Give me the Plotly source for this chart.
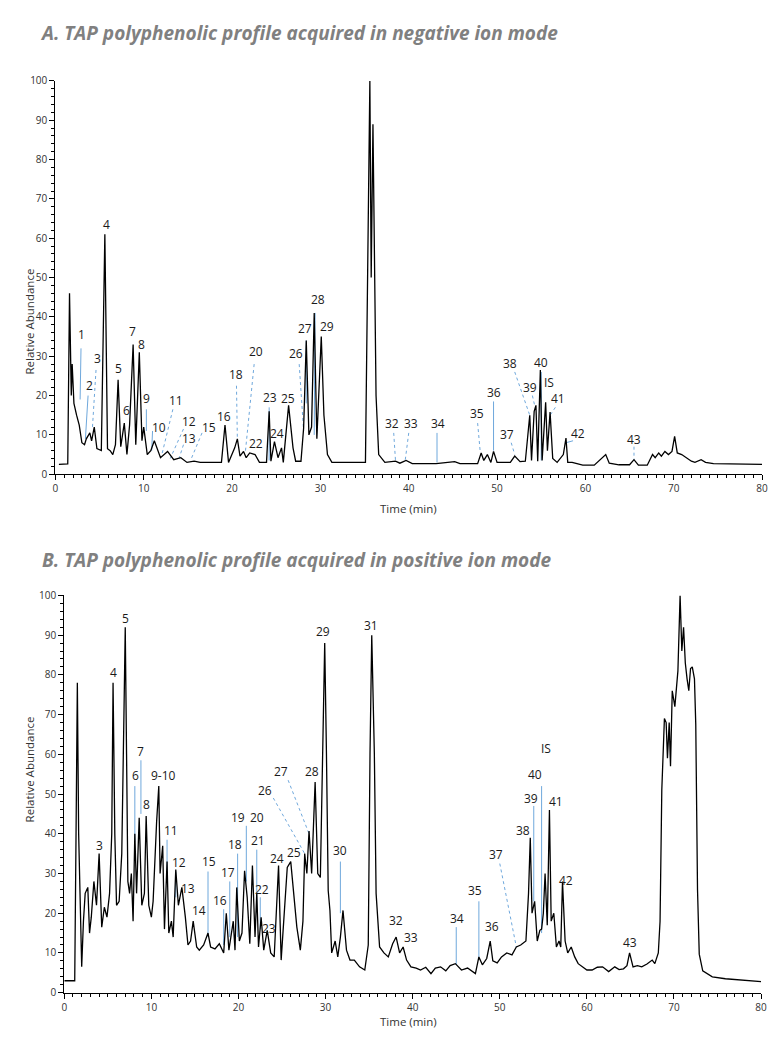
import plotly.graph_objects as go

# ---------------- Panel A: negative ion mode ----------------
A_time = [0.4, 1.4, 1.6, 1.8, 1.9, 2.1, 2.4, 2.7, 3.0, 3.3, 3.5, 3.9, 4.1, 4.4, 4.7, 5.2, 5.6, 5.9, 6.2, 6.5,
          6.8, 7.1, 7.4, 7.8, 8.1, 8.4, 8.8, 9.1, 9.5, 9.8, 10.0, 10.4, 10.8, 11.2, 11.9, 12.7, 13.4, 14.2, 14.9, 15.7,
          16.4, 18.8, 19.2, 19.6, 20.3, 20.6, 20.9, 21.3, 21.6, 22.0, 22.6, 23.1, 23.9, 24.2, 24.4, 24.8, 25.2, 25.6, 25.8, 26.4,
          26.9, 27.2, 27.8, 28.1, 28.4, 28.7, 29.0, 29.3, 29.6, 30.1, 30.4, 30.8, 31.3, 35.1, 35.6, 35.75, 35.95, 36.3, 36.6, 37.3,
          38.5, 39.0, 39.7, 40.4, 43.1, 45.2, 45.8, 47.8, 48.2, 48.5, 48.9, 49.3, 49.6, 50.0, 51.5, 52.0, 52.6, 53.2, 53.7, 53.9,
          54.2, 54.4, 54.6, 54.9, 55.1, 55.5, 55.7, 56.0, 56.3, 56.8, 57.5, 57.8, 58.0, 58.5, 59.7, 61.0, 62.3, 62.7, 63.8, 65.0,
          65.5, 66.0, 67.0, 67.6, 67.9, 68.3, 68.6, 69.0, 69.4, 69.8, 70.1, 70.4, 70.9, 71.4, 72.0, 72.4, 73.1, 73.6, 74.5, 80.0]
A_abund = [2.5, 2.6, 46, 20, 28, 18, 15, 12.5, 8, 7.5, 9, 10.5, 8.5, 12, 6.5, 6, 61, 6.5, 6, 5,
           7.5, 24, 7, 13, 5, 12.5, 33, 7.5, 31, 8.5, 12, 5, 6, 8.5, 4.2, 5.8, 3.7, 4.2, 3, 3.3,
           3, 3, 12.5, 3, 6.7, 9, 4.6, 5.8, 4.2, 5.4, 5, 3, 3, 16, 3.3, 8.3, 4.2, 6.7, 3, 17.5,
           6.7, 3.3, 3.3, 11.7, 34, 10, 12, 41, 9, 35, 15, 5, 3, 3, 100, 50, 89, 20, 5, 3,
           3.3, 2.8, 3.5, 2.7, 2.7, 3.2, 2.7, 2.7, 5.4, 3.5, 5, 3, 5.8, 3, 3, 4.6, 3.2, 3.3, 15, 3.5,
           16, 17.5, 3.3, 26.5, 3.5, 18.3, 6, 15.8, 4, 3, 5, 9.2, 3, 3, 2.3, 2.3, 5, 2.8, 2.4, 2.4,
           3.7, 2.3, 2.3, 5, 4.2, 5.4, 4.6, 5.8, 5, 5.8, 9.6, 5.4, 5, 4.2, 3.3, 3, 3.7, 3, 2.7, 2.5]

A_labels = ["1", "2", "3", "4", "5", "6", "7", "8", "9", "10", "11", "12", "13", "15", "16", "18", "20", "22",
            "23", "24", "25", "26", "27", "28", "29", "31", "32", "33", "34", "35", "36", "37", "38", "39", "40",
            "IS", "41", "42", "43"]
A_label_t = [3.0, 3.9, 4.8, 5.8, 7.2, 8.1, 8.7, 9.8, 10.3, 11.7, 13.7, 15.1, 15.1, 17.4, 19.1, 20.5, 22.7, 22.7,
             24.3, 25.1, 26.3, 27.2, 28.3, 29.7, 30.8, 35.6, 38.1, 40.3, 43.3, 47.7, 49.7, 51.1, 51.5, 53.7, 55.0,
             55.9, 56.9, 59.2, 65.5]
A_label_y = [35.4, 22.5, 29.3, 63.5, 27, 16.3, 36.3, 33, 19.2, 12, 18.8, 13.3, 9.2, 12, 14.6, 25.4, 31.3, 7.9,
             19.6, 10.4, 19.2, 30.8, 37, 44.3, 37.5, 102.5, 12.9, 12.9, 12.9, 15.4, 20.8, 10.2, 28.2, 22, 28.3,
             23.3, 19.2, 10.4, 8.8]

# leader lines: start t, start y, end t, end y
A_lead_solid = [(2.9, 32, 2.8, 19), (3.7, 20, 3.4, 9), (10.3, 16.5, 10.3, 11), (11.0, 11, 10.9, 6),
                (24.2, 17, 24.2, 3.5), (28.4, 34, 28.4, 18), (29.4, 41, 29.3, 10), (55.0, 26, 55.0, 3.5),
                (43.2, 10.5, 43.2, 3), (49.6, 18.5, 49.6, 6), (58.6, 8.5, 57.8, 8)]
A_lead_dash = [(4.6, 26.5, 4.2, 12), (13.3, 16.5, 12.0, 4.5), (14.5, 11.5, 13.0, 4), (14.5, 7.5, 14.0, 4),
               (16.6, 10.5, 15.3, 3.5), (20.5, 22.5, 20.6, 9), (22.5, 28, 21.5, 5.5), (27.6, 28, 28.1, 11),
               (38.3, 10.5, 38.5, 3.5), (40.0, 10.5, 39.6, 3.5), (47.8, 13, 48.1, 5.5), (51.6, 8, 52.0, 5),
               (52.0, 26, 53.7, 15), (54.0, 20, 54.3, 17), (56.6, 17, 56.0, 15), (65.5, 7, 65.5, 3.7)]

# ---------------- Panel B: positive ion mode ----------------
B_time = [0.0, 1.2, 1.35, 1.5, 1.65, 1.9, 2.0, 2.2, 2.4, 2.7, 2.9, 3.1, 3.4, 3.7, 4.0, 4.3, 4.6, 4.9, 5.2, 5.45,
          5.6, 5.8, 6.0, 6.3, 6.6, 6.85, 7.0, 7.15, 7.3, 7.5, 7.7, 7.9, 8.1, 8.3, 8.6, 8.9, 9.2, 9.4, 9.7, 10.0,
          10.2, 10.6, 10.85, 11.0, 11.3, 11.5, 11.8, 12.0, 12.3, 12.5, 12.8, 13.1, 13.5, 13.9, 14.2, 14.5, 14.8, 15.2, 15.5, 16.0,
          16.5, 16.8, 17.3, 17.8, 18.3, 18.6, 18.9, 19.4, 19.6, 19.8, 20.1, 20.4, 20.7, 21.0, 21.3, 21.6, 21.9, 22.1, 22.3, 22.6,
          22.9, 23.3, 23.7, 24.1, 24.6, 24.9, 25.2, 25.6, 26.0, 26.3, 26.7, 27.1, 27.4, 27.6, 27.85, 28.1, 28.4, 28.8, 29.1, 29.4,
          29.7, 29.9, 30.1, 30.3, 30.5, 30.7, 31.1, 31.4, 31.7, 32.0, 32.4, 32.8, 33.3, 33.9, 34.5, 34.9, 35.1, 35.3, 35.6, 35.8,
          36.2, 36.7, 37.2, 37.7, 38.1, 38.5, 38.9, 39.3, 39.8, 40.4, 40.9, 41.5, 42.1, 42.6, 43.2, 43.8, 44.3, 44.9, 45.6, 46.3,
          47.2, 47.6, 48.0, 48.5, 48.9, 49.2, 49.7, 50.2, 50.8, 51.4, 51.9, 52.4, 53.0, 53.3, 53.5, 53.7, 54.0, 54.3, 54.6, 54.8,
          55.0, 55.2, 55.45, 55.7, 55.9, 56.2, 56.5, 56.8, 57.0, 57.2, 57.5, 57.8, 58.2, 58.6, 59.0, 59.5, 60.0, 60.6, 61.2, 61.8,
          62.5, 63.2, 63.7, 64.2, 64.6, 64.9, 65.3, 65.8, 66.3, 66.9, 67.5, 67.8, 68.2, 68.4, 68.6, 68.9, 69.1, 69.25, 69.45, 69.6,
          69.8, 70.1, 70.45, 70.7, 70.9, 71.1, 71.3, 71.5, 71.7, 71.9, 72.1, 72.35, 72.5, 72.7, 72.9, 73.3, 74.4, 75.9, 77.4, 80.0]
B_abund = [3, 3, 40, 78, 40, 10, 6.5, 18, 25, 26.5, 15, 19, 28, 22, 35, 16.5, 21.5, 19, 25, 40,
           78, 40, 22, 23, 35, 70, 92, 60, 28, 25, 30, 18, 40, 25, 44, 22, 25, 44.5, 22, 19,
           23, 43, 52, 30, 37, 16, 33, 15, 18, 14, 31, 22, 26.5, 19, 12, 13, 18, 11.5, 10.7, 12,
           15, 11.5, 11, 12.3, 10, 20, 10.7, 18, 10.7, 26.5, 13, 15, 30.7, 24, 12.3, 32, 14, 25, 11.5, 19,
           10.7, 15.7, 10, 9, 32, 8.2, 18, 31.5, 33, 25, 16.5, 10.7, 18, 35, 30, 40.7, 30, 53, 30, 29,
           70, 88, 60, 25.7, 20.7, 10, 13, 9, 14, 20.7, 10.7, 8.2, 8.2, 6.5, 5.7, 12, 60, 90, 60, 25,
           11.5, 10, 9, 12.3, 14, 10, 11.5, 8.2, 6.5, 6.2, 5.7, 6.4, 4.8, 6.2, 6.5, 5.5, 6.8, 7.3, 5.7, 6.2,
           4.8, 9, 7, 8.6, 13, 8, 7.5, 9, 10, 9.5, 11.5, 12, 13, 25, 39, 20, 23, 13, 15.7, 16,
           20, 30, 17, 46, 18, 20, 11.5, 13, 11.5, 28, 13, 10, 11.5, 9, 7.3, 6.5, 5.7, 5.7, 6.4, 6.5,
           5.3, 6.5, 5.8, 6, 6.8, 10, 6.5, 6.8, 6.5, 7.2, 8.2, 7.3, 10, 18, 51, 69, 68, 59, 68, 57,
           76, 72, 81, 100, 86, 92, 83, 79, 76, 81.6, 82, 79, 67.5, 26, 9.7, 5.5, 4, 3.5, 3.2, 2.8]

B_labels = ["3", "4", "5", "6", "7", "8", "9-10", "11", "12", "13", "14", "15", "16", "17", "18", "19", "20",
            "21", "22", "23", "24", "25", "26", "27", "28", "29", "30", "31", "32", "33", "34", "35", "36", "37",
            "38", "39", "40", "IS", "41", "42", "43"]
B_label_t = [4.0, 5.6, 7.0, 8.2, 8.8, 9.4, 11.4, 12.3, 13.2, 14.2, 15.5, 16.6, 17.9, 18.8, 19.6, 19.9, 22.1,
             22.2, 22.7, 23.5, 24.4, 26.4, 23.0, 24.9, 28.4, 29.7, 31.7, 35.2, 38.1, 39.8, 45.1, 47.2, 49.1, 49.6,
             52.7, 53.6, 54.0, 55.3, 56.4, 57.6, 65.0]
B_label_y = [37, 80.6, 94.3, 54.6, 60.8, 47.4, 54.6, 40.7, 32.8, 26.3, 20.8, 33, 23.3, 30.3, 37.2, 44.2, 44.2,
             38.2, 26, 16.1, 33.7, 35.3, 51, 55.8, 55.6, 90.8, 35.7, 92.4, 18.2, 14, 18.6, 25.7, 16.7, 34.8,
             40.8, 49, 54.8, 61.5, 48.2, 28.2, 12.75]

B_lead_solid = [(8.1, 52, 8.1, 38), (8.8, 58.5, 8.8, 45), (11.8, 38.5, 11.8, 28), (12.8, 30.5, 12.8, 24),
                (16.5, 30.5, 16.5, 14), (18.3, 21, 18.3, 12), (19.0, 28, 19.0, 14), (19.9, 35, 19.9, 14),
                (20.9, 42, 20.9, 28), (22.1, 36, 22.1, 20), (22.5, 24, 22.5, 16), (31.7, 33, 31.7, 20),
                (45.0, 16.5, 45.0, 7), (47.6, 23, 47.6, 9), (53.9, 47, 53.9, 23), (54.8, 52, 54.8, 15)]
B_lead_dash = [(24.0, 49, 27.6, 35), (25.7, 53.5, 28.1, 40), (50.0, 32.5, 51.9, 11.5)]

# ---------------- figure ----------------
LEAD_BLUE = "#6fa8dc"
TEXT_FONT = dict(family="Open Sans, Liberation Sans, sans-serif", size=12, color="#1a1a1a")


def seg_xy(segs):
    xs, ys = [], []
    for x0, y0, x1, y1 in segs:
        xs += [x0, x1, None]
        ys += [y0, y1, None]
    return xs, ys


fig = go.Figure()
panels = [
    ("x", "y", A_time, A_abund, A_lead_solid, A_lead_dash, A_labels, A_label_t, A_label_y),
    ("x2", "y2", B_time, B_abund, B_lead_solid, B_lead_dash, B_labels, B_label_t, B_label_y),
]
annotations = []
for xr, yr, tt, aa, ls, ld, labs, lt, ly in panels:
    xs, ys = seg_xy(ls)
    fig.add_trace(go.Scatter(x=xs, y=ys, xaxis=xr, yaxis=yr, mode="lines",
                             line=dict(color=LEAD_BLUE, width=1), hoverinfo="skip", showlegend=False))
    xs, ys = seg_xy(ld)
    fig.add_trace(go.Scatter(x=xs, y=ys, xaxis=xr, yaxis=yr, mode="lines",
                             line=dict(color=LEAD_BLUE, width=1, dash="dot"), hoverinfo="skip", showlegend=False))
    fig.add_trace(go.Scatter(x=tt, y=aa, xaxis=xr, yaxis=yr, mode="lines",
                             line=dict(color="black", width=1.3), showlegend=False, cliponaxis=False))
    for s, x, y in zip(labs, lt, ly):
        annotations.append(dict(x=x, y=y, xref=xr, yref=yr, text=s, showarrow=False,
                                font=TEXT_FONT, xanchor="center", yanchor="middle"))

TITLE_FONT = dict(family="Open Sans, sans-serif", size=19, color="#808080", weight="bold", style="italic")
annotations += [
    dict(x=35 / 775, y=1 - 25 / 1045, xref="paper", yref="paper", xanchor="left", yanchor="middle",
         text="A. TAP polyphenolic profile acquired in negative ion mode", showarrow=False, font=TITLE_FONT),
    dict(x=37 / 775, y=1 - 560 / 1045, xref="paper", yref="paper", xanchor="left", yanchor="middle",
         text="B. TAP polyphenolic profile acquired in positive ion mode", showarrow=False, font=TITLE_FONT),
]
AX_TITLE_FONT = dict(family="Open Sans, sans-serif", size=11.5, color="#333333")
annotations += [
    dict(x=17 / 775, y=1 - 262 / 1045, xref="paper", yref="paper", text="Relative Abundance", textangle=-90,
         showarrow=False, font=AX_TITLE_FONT),
    dict(x=17 / 775, y=1 - 828 / 1045, xref="paper", yref="paper", text="Relative Abundance", textangle=-90,
         showarrow=False, font=AX_TITLE_FONT),
    dict(x=410 / 775, y=1 - 508 / 1045, xref="paper", yref="paper", text="Time (min)",
         showarrow=False, font=AX_TITLE_FONT),
    dict(x=410 / 775, y=1 - 1038 / 1045, xref="paper", yref="paper", text="Time (min)",
         showarrow=False, font=AX_TITLE_FONT),
]

tick_font = dict(family="Open Sans, sans-serif", size=10, color="#333333")
xcommon = dict(range=[0, 80], dtick=10, ticks="outside", ticklen=5, tickwidth=1, tickcolor="black",
               showline=True, linecolor="black", linewidth=1.2, showgrid=False, zeroline=False,
               tickfont=tick_font, minor=dict(dtick=1, ticks="outside", ticklen=3, tickcolor="black"))
ycommon = dict(range=[0, 100], dtick=10, ticks="outside", ticklen=5, tickwidth=1, tickcolor="black",
               showline=True, linecolor="black", linewidth=1.2, showgrid=False, zeroline=False,
               tickfont=tick_font, minor=dict(dtick=2, ticks="outside", ticklen=3, tickcolor="black"))

fig.update_layout(
    width=775, height=1045, margin=dict(l=0, r=0, t=0, b=0),
    paper_bgcolor="white", plot_bgcolor="white",
    xaxis=dict(domain=[53 / 775, 768 / 775], anchor="y", **xcommon),
    yaxis=dict(domain=[1 - 473 / 1045, 1 - 74 / 1045], anchor="x", **ycommon),
    xaxis2=dict(domain=[62 / 775, 767 / 775], anchor="y2", **xcommon),
    yaxis2=dict(domain=[1 - 999 / 1045, 1 - 596 / 1045], anchor="x2", **ycommon),
    annotations=annotations,
)

fig.write_html("out.html")
